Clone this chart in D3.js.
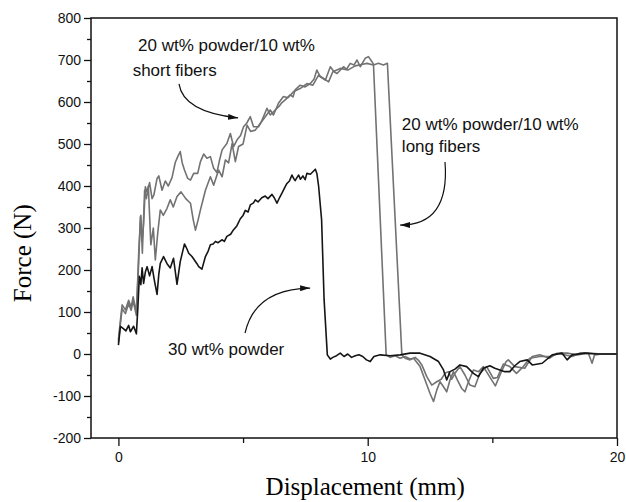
<!DOCTYPE html>
<html>
<head>
<meta charset="utf-8">
<script src="https://cdn.jsdelivr.net/npm/d3@7"></script>
<style>
  body { margin: 0; background: #fff; }
  svg { display: block; font-family: "Liberation Sans", Arial, sans-serif; }
  .axis-title { font-family: "Liberation Serif", "Times New Roman", serif; font-size: 25px; }
  .axis text { font-size: 14px; fill: #111; }
  .axis line { stroke: #111; stroke-width: 1.3; }
  .note { font-size: 17px; fill: #111; }
</style>
</head>
<body>
<div id="chart"></div>
<script>
const xTicks = [0, 10, 20];
const xMinorTicks = [5, 15];
const yTicks = [-200, -100, 0, 100, 200, 300, 400, 500, 600, 700, 800];
const yMinorTicks = [-150, -50, 50, 150, 250, 350, 450, 550, 650, 750];

const xTitle = "Displacement (mm)";
const yTitle = "Force (N)";
const shortLabel = ["20 wt% powder/10 wt%", "short fibers"];
const longLabel = ["20 wt% powder/10 wt%", "long fibers"];
const powderLabel = ["30 wt% powder"];

// [displacement mm, force N]
const powder30 = [
  [0, 21], [0.08, 66], [0.21, 60], [0.3, 55], [0.41, 68], [0.48, 53], [0.61, 66], [0.72, 48],
  [0.78, 110], [0.84, 185], [0.9, 165], [0.95, 205], [1.01, 168], [1.08, 195], [1.15, 208],
  [1.25, 186], [1.35, 208], [1.44, 176], [1.55, 142], [1.62, 190], [1.68, 216], [1.81, 232],
  [1.95, 215], [2.08, 205], [2.21, 228], [2.35, 166], [2.48, 220], [2.58, 245], [2.65, 262],
  [2.75, 250], [2.82, 240], [2.95, 232], [3.02, 226], [3.15, 215], [3.22, 208], [3.35, 202],
  [3.49, 232], [3.6, 245], [3.69, 260], [3.8, 262], [3.89, 268], [4.0, 265], [4.15, 272],
  [4.25, 268], [4.35, 280], [4.5, 285], [4.62, 296], [4.75, 305], [4.89, 322], [5.0, 330],
  [5.09, 342], [5.2, 338], [5.29, 355], [5.42, 360], [5.49, 367], [5.6, 362], [5.75, 372],
  [5.89, 376], [6.0, 370], [6.16, 380], [6.25, 372], [6.36, 359], [6.46, 372], [6.56, 383],
  [6.66, 395], [6.76, 406], [6.86, 412], [6.96, 426], [7.03, 418], [7.09, 413], [7.16, 420],
  [7.23, 426], [7.3, 416], [7.4, 424], [7.49, 415], [7.56, 430], [7.7, 428], [7.8, 434],
  [7.9, 440], [7.96, 430], [8.03, 400], [8.15, 320], [8.25, 130], [8.38, -2], [8.5, -12],
  [8.6, -8], [8.75, -4], [8.9, 2], [9.05, -6], [9.2, 0], [9.35, -8], [9.5, -4], [9.65, -2],
  [9.8, -6], [9.95, -14], [10.1, -18], [10.25, -6], [10.5, -2], [10.9, -4], [11.3, -2],
  [11.7, 2], [12.1, 2], [12.5, -6], [12.84, -18], [13.04, -38], [13.17, -62], [13.3, -42],
  [13.5, -36], [13.7, -26], [13.97, -30], [14.24, -46], [14.44, -54], [14.64, -34], [14.9, -28],
  [15.1, -34], [15.3, -38], [15.5, -42], [15.7, -42], [15.9, -28], [16.1, -18], [16.4, -14],
  [16.6, -26], [17.0, -22], [17.4, -2], [17.8, 2], [18.0, -14], [18.2, -2], [18.7, 2],
  [19.2, 0], [20, 0],
];

const shortFibers = [
  [0, 33], [0.08, 80], [0.15, 117], [0.28, 105], [0.41, 128], [0.51, 112], [0.59, 136], [0.72, 100],
  [0.8, 200], [0.88, 327], [0.95, 270], [1.01, 310], [1.08, 398], [1.15, 385], [1.25, 408],
  [1.35, 370], [1.42, 378], [1.55, 418], [1.62, 424], [1.75, 390], [1.88, 412], [2.0, 400],
  [2.15, 420], [2.28, 456], [2.38, 470], [2.48, 482], [2.56, 455], [2.65, 438], [2.78, 418],
  [2.89, 414], [3.02, 430], [3.18, 430], [3.29, 458], [3.42, 476], [3.55, 466], [3.69, 470],
  [3.82, 442], [3.95, 432], [4.05, 460], [4.16, 486], [4.35, 501], [4.49, 525], [4.62, 494],
  [4.76, 510], [4.9, 520], [5.02, 541], [5.15, 550], [5.29, 565], [5.42, 541], [5.62, 541],
  [5.75, 555], [5.96, 585], [6.09, 569], [6.29, 581], [6.45, 590], [6.55, 598], [6.69, 605],
  [6.89, 617], [7.0, 612], [7.09, 629], [7.29, 640], [7.49, 636], [7.7, 644], [7.85, 655],
  [7.96, 676], [8.1, 660], [8.3, 652], [8.5, 684], [8.65, 672], [8.77, 668], [9.03, 684],
  [9.15, 678], [9.3, 692], [9.45, 688], [9.57, 700], [9.7, 684], [9.9, 704], [10.03, 708],
  [10.17, 696], [10.23, 690], [10.74, -2], [10.9, -8], [11.1, -4], [11.3, -10], [11.5, -6],
  [11.7, -12], [11.84, -10], [12.1, -30], [12.3, -62], [12.5, -94], [12.64, -113], [12.77, -86],
  [12.9, -66], [13.04, -78], [13.17, -90], [13.3, -62], [13.44, -42], [13.6, -62], [13.77, -82],
  [13.9, -90], [14.05, -65], [14.24, -38], [14.45, -42], [14.64, -30], [14.9, -55], [15.12, -76],
  [15.35, -44], [15.55, -18], [15.64, -14], [15.9, -30], [16.3, -34], [16.6, -6], [16.9, -2],
  [17.3, -10], [17.6, 2], [18.2, -6], [18.5, 2], [18.85, 2], [19.0, -22], [19.1, -2],
  [19.4, 0], [20, 0],
];

const longFibers = [
  [0, 28], [0.08, 72], [0.15, 108], [0.28, 96], [0.41, 120], [0.51, 104], [0.59, 126], [0.72, 92],
  [0.82, 250], [0.9, 330], [0.96, 240], [1.05, 390], [1.12, 370], [1.2, 400], [1.3, 260],
  [1.4, 300], [1.48, 224], [1.58, 290], [1.68, 343], [1.8, 330], [1.95, 347], [2.08, 367],
  [2.2, 350], [2.35, 375], [2.51, 386], [2.7, 370], [2.89, 359], [3.0, 320], [3.09, 295],
  [3.2, 320], [3.29, 343], [3.49, 390], [3.69, 422], [3.82, 402], [4.02, 438], [4.16, 422],
  [4.29, 462], [4.42, 455], [4.56, 501], [4.69, 458], [4.82, 494], [5.0, 500], [5.16, 545],
  [5.3, 530], [5.49, 533], [5.69, 549], [5.89, 565], [6.09, 581], [6.22, 569], [6.42, 597],
  [6.62, 613], [6.8, 610], [7.03, 625], [7.29, 632], [7.56, 644], [7.8, 640], [8.03, 664],
  [8.23, 656], [8.43, 648], [8.6, 672], [8.9, 680], [9.2, 676], [9.5, 686], [9.8, 690],
  [9.97, 692], [10.23, 688], [10.43, 692], [10.63, 688], [10.79, 692], [11.37, -2], [11.5, -10],
  [11.7, -14], [11.9, -8], [12.05, -16], [12.17, -26], [12.37, -54], [12.57, -74], [12.77, -66],
  [12.95, -60], [13.1, -46], [13.24, -42], [13.37, -60], [13.5, -46], [13.7, -30], [13.9, -50],
  [14.1, -74], [14.3, -78], [14.5, -46], [14.77, -30], [15.04, -58], [15.2, -56], [15.44, -24],
  [15.7, -30], [15.97, -46], [16.24, -30], [16.5, -10], [16.9, -6], [17.3, -6], [17.7, 2],
  [18.0, 2], [18.4, -2], [18.8, 2], [19.4, 0], [20, 0],
];

const width = 626;
const height = 502;
const margin = { top: 18, right: 9, bottom: 64, left: 91 };

const x = d3.scaleLinear().domain([-1.1, 20]).range([margin.left, width - margin.right]);
const y = d3.scaleLinear().domain([-200, 800]).range([height - margin.bottom, margin.top]);

const svg = d3.select("#chart").append("svg")
  .attr("width", width)
  .attr("height", height)
  .attr("viewBox", [0, 0, width, height]);

svg.append("defs").append("marker")
  .attr("id", "head")
  .attr("viewBox", "0 0 10 6")
  .attr("refX", 10)
  .attr("refY", 3)
  .attr("markerWidth", 10)
  .attr("markerHeight", 6)
  .attr("markerUnits", "userSpaceOnUse")
  .attr("orient", "auto")
  .append("path")
  .attr("d", "M0,0L10,3L0,6Z")
  .attr("fill", "#111");

// axes: major and minor ticks in their own groups
const fmt = (d) => d3.format("d")(d).replace("−", "-");
const bottom = `translate(0,${y(-200)})`;
const left = `translate(${x(-1.1)},0)`;

svg.append("g").attr("class", "axis").attr("transform", bottom)
  .call(d3.axisBottom(x).tickValues(xTicks).tickSize(8).tickPadding(6).tickFormat(fmt))
  .call((g) => g.select(".domain").remove());
svg.append("g").attr("class", "axis").attr("transform", bottom)
  .call(d3.axisBottom(x).tickValues(xMinorTicks).tickSize(5).tickFormat(""))
  .call((g) => g.select(".domain").remove());
svg.append("g").attr("class", "axis").attr("transform", left)
  .call(d3.axisLeft(y).tickValues(yTicks).tickSize(7).tickPadding(3).tickFormat(fmt))
  .call((g) => g.select(".domain").remove());
svg.append("g").attr("class", "axis").attr("transform", left)
  .call(d3.axisLeft(y).tickValues(yMinorTicks).tickSize(4).tickFormat(""))
  .call((g) => g.select(".domain").remove());

svg.append("rect")
  .attr("x", x(-1.1))
  .attr("y", y(800))
  .attr("width", x(20) - x(-1.1))
  .attr("height", y(-200) - y(800))
  .attr("fill", "none")
  .attr("stroke", "#111")
  .attr("stroke-width", 1.5);

svg.append("text")
  .attr("class", "axis-title")
  .attr("text-anchor", "middle")
  .attr("x", x(9.9))
  .attr("y", 495)
  .text(xTitle);

svg.append("text")
  .attr("class", "axis-title")
  .attr("text-anchor", "middle")
  .attr("transform", `translate(31,${y(240)})rotate(-90)`)
  .text(yTitle);

// curves
const line = d3.line().x((d) => x(d[0])).y((d) => y(d[1]));
const series = [
  { data: shortFibers, color: "#727272" },
  { data: longFibers, color: "#727272" },
  { data: powder30, color: "#151515" },
];
svg.append("g")
  .selectAll("path")
  .data(series)
  .join("path")
  .attr("d", (d) => line(d.data))
  .attr("fill", "none")
  .attr("stroke", (d) => d.color)
  .attr("stroke-width", 1.6)
  .attr("stroke-linejoin", "round");

// annotations: each line has its own anchor in data units
const notes = [
  { text: shortLabel[0], at: [0.79, 721] },
  { text: shortLabel[1], at: [0.57, 662] },
  { text: longLabel[0], at: [11.37, 533] },
  { text: longLabel[1], at: [11.37, 481] },
  { text: powderLabel[0], at: [1.99, -2] },
];
svg.append("g")
  .attr("class", "note")
  .selectAll("text")
  .data(notes)
  .join("text")
  .attr("x", (d) => x(d.at[0]))
  .attr("y", (d) => y(d.at[1]))
  .text((d) => d.text);

const arrows = [
  [[2.43, 643], [2.6, 576], [4.8, 562]],
  [[13.1, 457], [13.3, 307], [11.3, 307]],
  [[5.08, 50], [5.48, 155], [7.69, 157]],
];
svg.append("g")
  .selectAll("path")
  .data(arrows)
  .join("path")
  .attr("d", ([a, c, b]) =>
    `M${x(a[0])},${y(a[1])}Q${x(c[0])},${y(c[1])} ${x(b[0])},${y(b[1])}`)
  .attr("fill", "none")
  .attr("stroke", "#111")
  .attr("stroke-width", 1.2)
  .attr("marker-end", "url(#head)");
</script>
</body>
</html>
